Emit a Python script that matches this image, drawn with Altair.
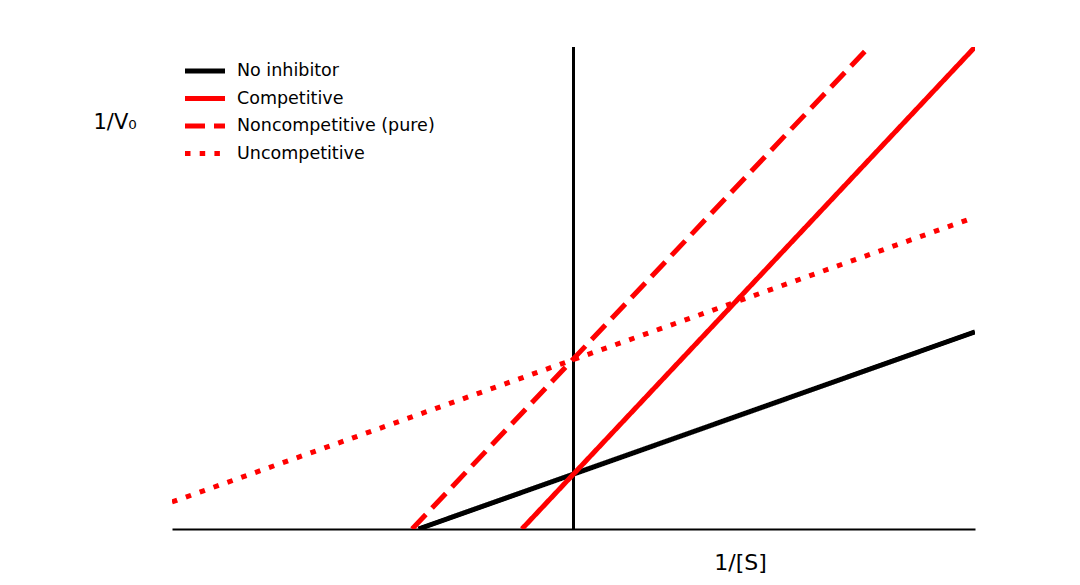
import altair as alt
import pandas as pd

# Series (data units: x in [-2, 2], y in [0, 10])
series = ["No inhibitor", "Competitive", "Noncompetitive (pure)", "Uncompetitive"]
x_start = [-0.772, -0.257, -0.804, -2.0]
y_start = [0.0, 0.0, 0.0, 0.56]
x_end = [2.0, 2.0, 1.472, 2.0]
y_end = [4.09, 10.0, 10.0, 6.47]
colors = ["#000000", "#ff0000", "#ff0000", "#ff0000"]
dashes = [[1, 0], [1, 0], [20, 9], [5.5, 9.2]]

# vertical axis line at 1/[S] = 0
axis_x = [0.0]
axis_y0 = [0.0]
axis_y1 = [10.0]

rows = []
for s, xa, ya, xb, yb in zip(series, x_start, y_start, x_end, y_end):
    rows.append({"series": s, "x": xa, "y": ya})
    rows.append({"series": s, "x": xb, "y": yb})
df = pd.DataFrame(rows)
vdf = pd.DataFrame({"x": axis_x, "y": axis_y0, "y2": axis_y1})

FONT = "DejaVu Sans"

x_enc = alt.X(
    "x:Q",
    scale=alt.Scale(domain=[-2, 2], nice=False, zero=False),
    axis=alt.Axis(
        title="1/[S]", domain=True, domainColor="#000000", domainWidth=2,
        ticks=False, labels=False, grid=False,
        titleFont=FONT, titleFontSize=22, titleFontWeight="normal", titleColor="#000000",
        titleX=568, titleY=40, titleAlign="center", titleBaseline="alphabetic",
    ),
)
y_enc = alt.Y(
    "y:Q",
    scale=alt.Scale(domain=[0, 10], nice=False, zero=False),
    axis=alt.Axis(
        title="1/V₀", domain=False, ticks=False, labels=False, grid=False,
        titleFont=FONT, titleFontSize=21, titleFontWeight="normal", titleColor="#000000",
        titleAngle=0, titleX=-79, titleY=81, titleAlign="left", titleBaseline="alphabetic",
    ),
)

legend = alt.Legend(
    title=None, orient="none", legendX=10.5, legendY=16,
    symbolType="stroke", symbolSize=1600, symbolStrokeWidth=5,
    clipHeight=16, rowPadding=9.5, labelOffset=9.5,
    labelFont=FONT, labelFontSize=17.5, labelColor="#000000", labelLimit=500,
    padding=0,
)

lines = alt.Chart(df).mark_line(strokeWidth=5, clip=True).encode(
    x=x_enc,
    y=y_enc,
    color=alt.Color("series:N", scale=alt.Scale(domain=series, range=colors), legend=legend),
    strokeDash=alt.StrokeDash("series:N", scale=alt.Scale(domain=series, range=dashes), legend=legend),
    detail="series:N",
)

vline = alt.Chart(vdf).mark_rule(color="#000000", strokeWidth=3).encode(
    x=x_enc,
    y=y_enc,
    y2="y2:Q",
)

chart = alt.layer(vline, lines).properties(
    width=803, height=482,
    autosize=alt.AutoSizeParams(type="none"),
    padding={"left": 164, "top": 39, "right": 60, "bottom": 60},
    background="#ffffff",
).configure_view(stroke=None)

chart.save("out.html", embed_options={"renderer": "svg", "actions": False})
